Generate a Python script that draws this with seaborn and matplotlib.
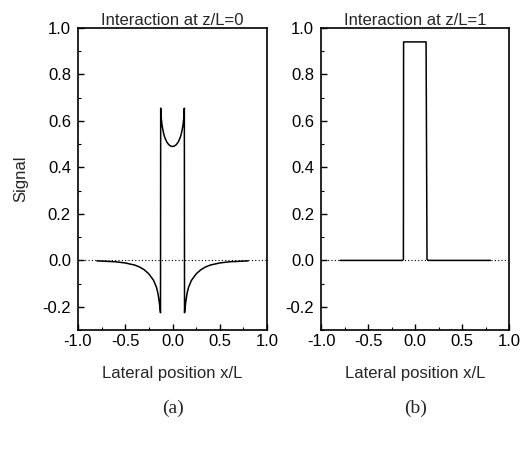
import numpy as np
import pandas as pd
import matplotlib
matplotlib.use("Agg")
import matplotlib.pyplot as plt
import seaborn as sns
from matplotlib.ticker import MultipleLocator

sns.set_style("ticks")
plt.rcParams['font.family'] = ['Liberation Sans', 'DejaVu Sans']

# Panel (a): interaction at z/L=0 (left half, mirrored)
xa_half = [-0.80, -0.70, -0.60, -0.50, -0.40, -0.35, -0.30, -0.25, -0.20, -0.17,
           -0.155, -0.145, -0.135, -0.127, -0.125, -0.12, -0.11, -0.10, -0.09,
           -0.08, -0.06, -0.04, -0.02]
ya_half = [-0.002, -0.004, -0.006, -0.011, -0.020, -0.028, -0.040, -0.058, -0.086, -0.115,
           -0.140, -0.165, -0.195, -0.225, 0.655, 0.615, 0.580, 0.558, 0.540,
           0.527, 0.509, 0.498, 0.492]
xa = xa_half + [0.0] + [-v for v in xa_half[::-1]]
ya = ya_half + [0.490] + ya_half[::-1]

# Panel (b): interaction at z/L=1
xb = [-0.80, -0.135, -0.126, -0.124, 0.115, 0.125, 0.135, 0.80]
yb = [0.000, 0.000, 0.005, 0.940, 0.940, 0.005, 0.000, 0.000]

titles = ["Interaction at z/L=0", "Interaction at z/L=1"]
captions = ["(a)", "(b)"]
xticks = [-1.0, -0.5, 0.0, 0.5, 1.0]
yticks = [-0.2, 0.0, 0.2, 0.4, 0.6, 0.8, 1.0]

fig = plt.figure(figsize=(5.3, 4.51), dpi=100)
ax1 = fig.add_axes([0.147, 0.268, 0.357, 0.670])
ax2 = fig.add_axes([0.606, 0.268, 0.355, 0.670])

data = [(xa, ya), (xb, yb)]
for i, ax in enumerate([ax1, ax2]):
    df = pd.DataFrame({"x": data[i][0], "y": data[i][1]})
    ax.axhline(0, color="black", lw=0.8, ls=(0, (1, 2)), zorder=1)
    sns.lineplot(data=df, x="x", y="y", ax=ax, sort=False, estimator=None,
                 color="black", lw=1.1, zorder=3)
    ax.set_xlim(-1.0, 1.0)
    ax.set_ylim(-0.3, 1.0)
    ax.set_xticks(xticks)
    ax.set_xticklabels([f"{v:.1f}" for v in xticks])
    ax.set_yticks(yticks)
    ax.set_yticklabels([f"{v:.1f}" for v in yticks])
    ax.xaxis.set_minor_locator(MultipleLocator(0.25))
    ax.yaxis.set_minor_locator(MultipleLocator(0.1))
    ax.tick_params(which="both", direction="in", labelsize=12, color="black",
                   labelcolor="black")
    ax.tick_params(axis="x", pad=3)
    ax.tick_params(axis="y", pad=5)
    ax.tick_params(which="major", length=4, width=1)
    ax.tick_params(which="minor", length=2.5, width=0.8)
    for s in ax.spines.values():
        s.set_linewidth(1.2)
        s.set_color("black")
    ax.set_title(titles[i], fontsize=12, pad=2)
    ax.set_xlabel("Lateral position x/L", fontsize=12, labelpad=12)
    ax.set_ylabel("Signal" if i == 0 else "", fontsize=12, labelpad=10)
    ax.text(0.5, -0.26, captions[i], transform=ax.transAxes, ha="center", va="center",
            fontsize=14, family="Liberation Serif")

fig.savefig("out.png", dpi=100)
